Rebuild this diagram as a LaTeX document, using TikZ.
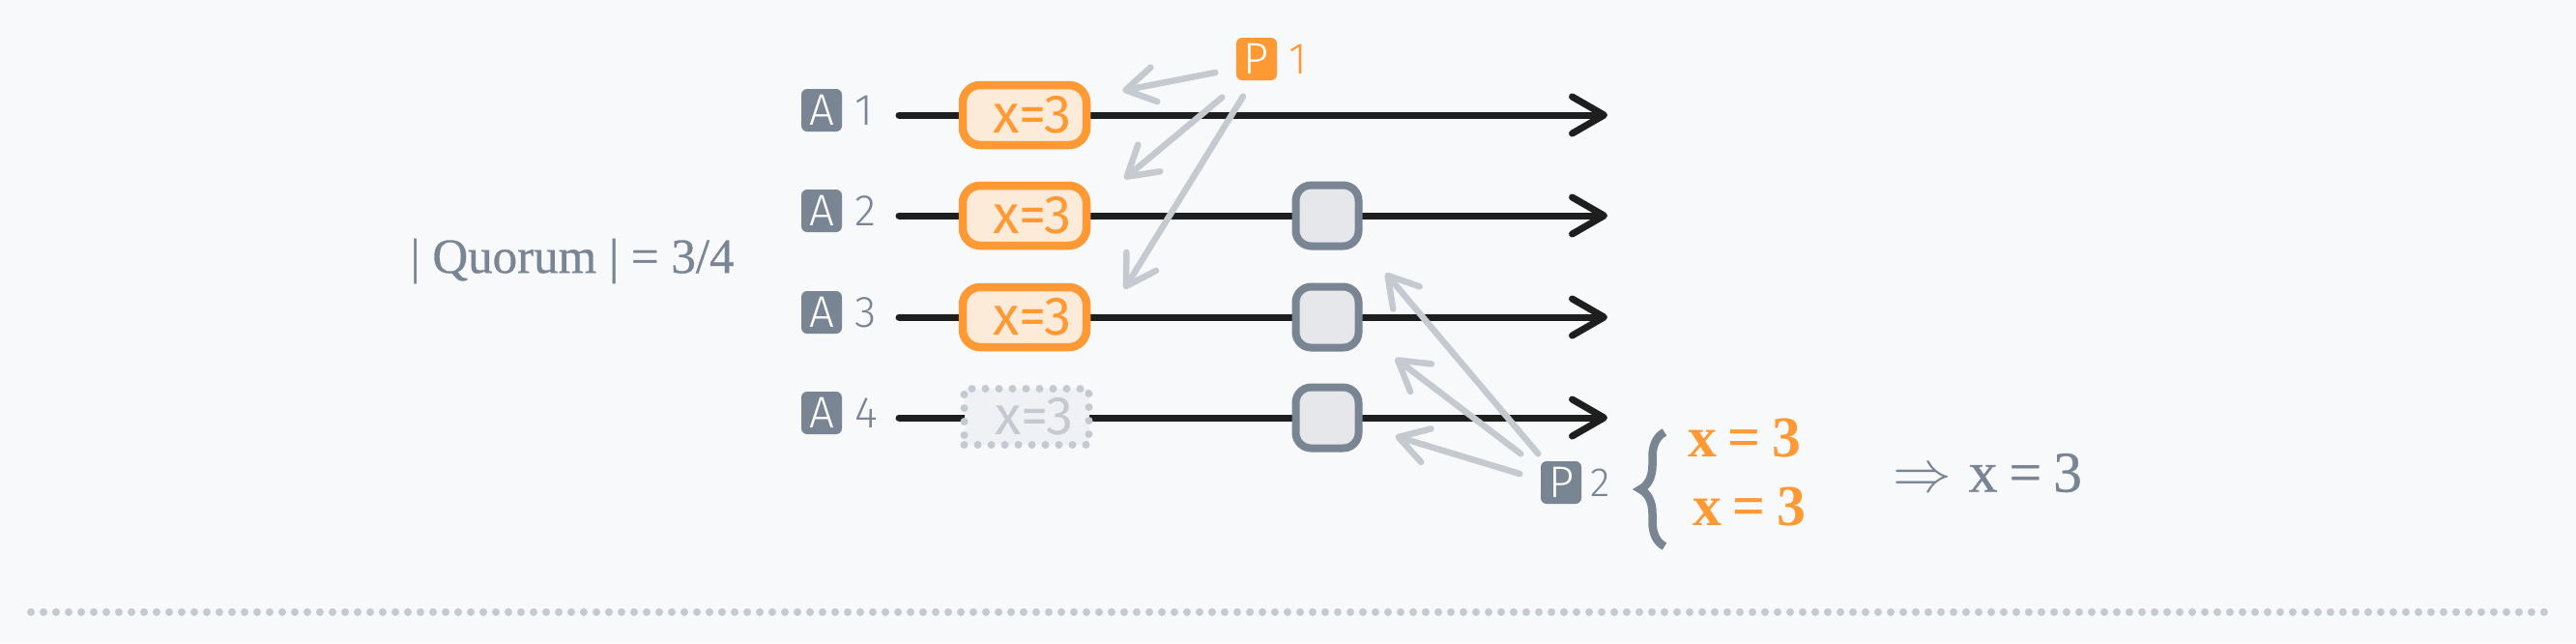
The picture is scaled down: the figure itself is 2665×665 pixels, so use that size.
\documentclass[tikz,border=0pt]{standalone}
\usepackage{fontspec}
\setmainfont{Liberation Serif}
\setsansfont{Fira Sans Light}
\newfontfamily\heavyserif{Liberation Serif}[FakeBold=0.6]
\newfontfamily\boxsans{Fira Sans}
\usetikzlibrary{arrows.meta,positioning,calc,decorations.pathreplacing}
\definecolor{paper}{RGB}{248,249,251}
\definecolor{slate}{RGB}{122,133,148}
\definecolor{pumpkin}{RGB}{255,153,51}
\definecolor{pumpkinfill}{RGB}{253,235,218}
\definecolor{mist}{RGB}{197,202,209}
\definecolor{ink}{RGB}{30,30,30}
\definecolor{readfill}{RGB}{229,231,234}
\definecolor{ghostfill}{RGB}{239,241,244}

\begin{document}
\begin{tikzpicture}[x=0.1mm,y=-0.1mm,
  font=\sffamily,
  badge/.style={rounded corners=0.6mm,fill=slate,text=white,inner sep=0pt,
    minimum width=4.2mm,minimum height=4.4mm,font=\sffamily\fontsize{13}{13}\selectfont},
  pbadge/.style={badge,fill=pumpkin},
  idx/.style={text=slate,inner sep=0pt,font=\sffamily\fontsize{13}{13}\selectfont},
  write/.style={rounded corners=1.8mm,draw=pumpkin,fill=pumpkinfill,line width=0.85mm,
    minimum width=12.8mm,minimum height=6.2mm,text=pumpkin,inner sep=0pt,
    font=\boxsans\fontsize{16}{16}\selectfont},
  lost/.style={write,sharp corners,draw=mist,fill=ghostfill,text=mist,line width=0.8mm,
    dash pattern=on 0pt off 1.4mm,line cap=round,minimum width=12.9mm,minimum height=5.8mm},
  read/.style={rounded corners=1.6mm,draw=slate,fill=readfill,line width=0.8mm,
    minimum width=6.5mm,minimum height=6.3mm,inner sep=0pt},
  timeline/.style={ink,line width=0.7mm,line cap=round,
    -{Straight Barb[length=3.3mm,width=3.8mm,round]}},
  msg/.style={mist,line width=0.65mm,line cap=round,
    -{Straight Barb[length=3mm,width=3.6mm,round]}},
  val/.style={text=pumpkin,inner sep=0pt,font=\rmfamily\bfseries\fontsize{17}{17}\selectfont},
  res/.style={text=slate,inner sep=0pt,font=\heavyserif\fontsize{17}{17}\selectfont},
  quorum/.style={text=slate,inner sep=0pt,font=\heavyserif\fontsize{14.5}{14.5}\selectfont},
  rule/.style={mist,line width=0.8mm,line cap=round,dash pattern=on 0pt off 1.3mm}]

  \fill[paper] (0,0) rectangle (2665,665);
  \useasboundingbox (0,0) rectangle (2665,665);

  % acceptors and their time lines
  \foreach \i/\y in {1/119,2/223,3/328,4/432}{
    \node[badge] (a\i) at (850,\y-5) {A};
    \node[idx,right=1.2mm of a\i] (n\i) {\i};
    \coordinate (t\i) at (930,\y);
    \coordinate (h\i) at (1663,\y);
    \draw[timeline] (t\i) -- (h\i);
  }

  % phase 1: P1 writes x=3
  \node[write] (w1) at (1060,119) {\hspace{1.6mm}x=3};
  \node[write] (w2) at (1060,223) {\hspace{1.6mm}x=3};
  \node[write] (w3) at (1060,328) {\hspace{1.6mm}x=3};
  \node[lost]  (w4) at (1062,431) {\hspace{1.6mm}x=3};

  % phase 2: P2 reads
  \foreach \i/\y in {2/223,3/328,4/432}
    \node[read] (r\i) at (1373,\y) {};

  \node[pbadge] (p1) at (1300,61) {P};
  \node[idx,text=pumpkin,right=1.1mm of p1] (p1n) {1};
  \node[badge] (p2) at (1615,499) {P};
  \node[idx,font=\sffamily\fontsize{12}{12}\selectfont,right=0.8mm of p2] (p2n) {2};

  \draw[msg] ($(p1.west)+(-21,14)$) -- ($(w1.north east)+(33,10)$);
  \draw[msg] ($(p1.south west)+(-14,17)$) -- ($(w2.north east)+(35,-3)$);
  \draw[msg] ($(p1.south)+(-14,16)$) -- ($(w3.north east)+(35,6)$);

  \draw[msg] ($(p2.north west)+(-2,-7)$) -- ($(r3.north east)+(24,-10)$);
  \draw[msg] ($(p2.north west)+(-20,-7)$) -- ($(r4.north east)+(34,-26)$);
  \draw[msg] ($(p2.west)+(-21,-9)$) -- ($(r4.east)+(34,19)$);

  % what P2 sees
  \node[val] (v1) at (1805,453) {x\kern.2em=\kern.2em3};
  \node[val] (v2) at (1810,524) {x\kern.2em=\kern.2em3};
  \coordinate (bb) at (1722,565);
  \coordinate (bt) at (1722,447);
  \draw[slate,line width=0.85mm,decorate,decoration={brace,amplitude=2.5mm}] (bb) -- (bt);
  \node[res] (res) at (2056,489) {$\Rightarrow$\kern.3em x\kern.2em=\kern.2em3};

  \node[quorum] (q) at (592,270) {| Quorum | = 3/4};

  \draw[rule] (32,633) -- (2633,633);

\end{tikzpicture}
\end{document}
